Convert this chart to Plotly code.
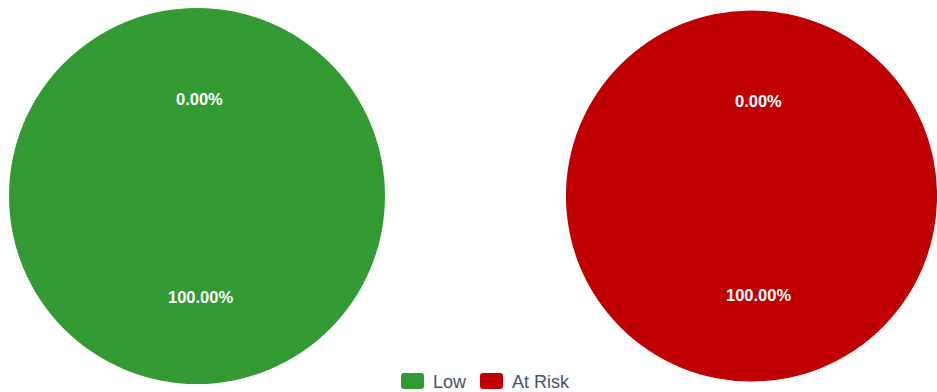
import math
import plotly.graph_objects as go

# ---- data ----
categories = ["Low", "At Risk"]
left_labels = ["Low", "At Risk"]
left_values = [100, 0]
right_labels = ["At Risk", "Low"]
right_values = [100, 0]
colors = {"Low": "#339933", "At Risk": "#c00000"}

W, H = 937, 392
FONT = "Liberation Sans, Arial, sans-serif"

# pie domains (paper fractions)
left_dom = dict(x=[9 / W, 385 / W], y=[8 / H, 384 / H])
right_dom = dict(x=[566 / W, 1.0], y=[8 / H, 384 / H])

fig = go.Figure()
annotations = []
shapes = []


def add_pie(labels, values, dom, xshift):
    fig.add_trace(go.Pie(
        labels=labels, values=values, domain=dom, sort=False,
        direction="clockwise", rotation=0, textinfo="none",
        hoverinfo="label+percent", showlegend=False,
        marker=dict(colors=[colors[l] for l in labels],
                    line=dict(color="white", width=0)),
    ))
    x0, x1 = dom["x"][0] * W, dom["x"][1] * W
    y0, y1 = (1 - dom["y"][1]) * H, (1 - dom["y"][0]) * H
    cx, cy = (x0 + x1) / 2, (y0 + y1) / 2
    r = min(x1 - x0, y1 - y0) / 2
    total = sum(values)
    cum = 0
    for v in values:
        mid = (cum + v / 2) / total * 2 * math.pi
        cum += v
        rl = 0.525 * r
        px = cx + rl * math.sin(mid)
        py = cy - rl * math.cos(mid)
        annotations.append(dict(
            x=px / W, y=1 - py / H, xref="paper", yref="paper",
            text="%.2f%%" % (v / total * 100), showarrow=False,
            xshift=xshift, yshift=-2,
            font=dict(family=FONT, size=16.5, color="white", weight="bold"),
            xanchor="center", yanchor="middle",
        ))


add_pie(left_labels, left_values, left_dom, 3)
add_pie(right_labels, right_values, right_dom, 7)


# ---- custom legend (rounded markers) ----
def rrect(x0, y0, x1, y1, rad):
    def P(x, y):
        return "%.5f,%.5f" % (x / W, 1 - y / H)
    return ("M" + P(x0 + rad, y0) + " L" + P(x1 - rad, y0) +
            " Q" + P(x1, y0) + " " + P(x1, y0 + rad) +
            " L" + P(x1, y1 - rad) + " Q" + P(x1, y1) + " " + P(x1 - rad, y1) +
            " L" + P(x0 + rad, y1) + " Q" + P(x0, y1) + " " + P(x0, y1 - rad) +
            " L" + P(x0, y0 + rad) + " Q" + P(x0, y0) + " " + P(x0 + rad, y0) + " Z")


leg_x = [401, 480]
for cat, lx in zip(categories, leg_x):
    shapes.append(dict(type="path", xref="paper", yref="paper",
                       path=rrect(lx, 373, lx + 23, 389, 3),
                       fillcolor=colors[cat], line=dict(width=0)))
    annotations.append(dict(
        x=(lx + 30) / W, y=1 - 381.5 / H, xref="paper", yref="paper",
        text=cat, showarrow=False, xanchor="left", yanchor="middle",
        font=dict(family=FONT, size=18, color="#44546a"),
    ))

fig.update_layout(
    width=W, height=H,
    margin=dict(l=0, r=0, t=0, b=0),
    paper_bgcolor="white", plot_bgcolor="white",
    annotations=annotations,
    shapes=shapes,
    showlegend=False,
)

fig.write_html("out.html")
